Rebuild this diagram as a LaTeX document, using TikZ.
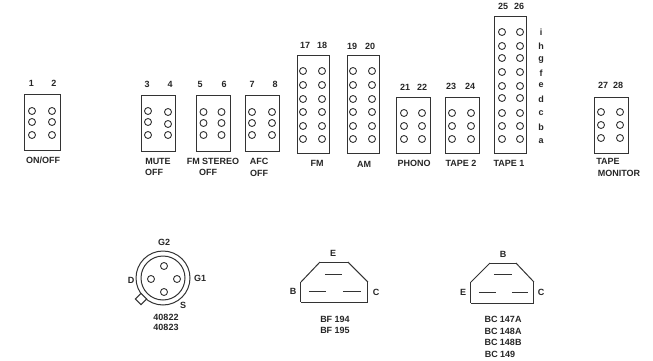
\documentclass[tikz,border=0pt]{standalone}
\usepackage{fontspec}
\setsansfont{Liberation Sans}
\usepackage{tkz-graph}
\usetikzlibrary{arrows}
\usetikzlibrary{shapes}

\begin{document}
\begin{tikzpicture}[scale = 3.515, font=\sffamily\bfseries\fontsize{9}{9}\selectfont]
	\useasboundingbox (0, 0) rectangle (6.53, 3.60);
	\tikzstyle{VertexStyle} = []
	\tikzstyle{EdgeStyle} = [line width = 1pt, color = black!80]
	\tikzstyle{holeStyle}=[shape = circle, minimum size = 7pt, inner sep = 0pt, line width = 0.9pt, draw = black!80]
	\tikzstyle{textStyle}=[inner sep = 0pt, color = black!85]
	\tikzstyle{cornerStyle}=[shape = coordinate]
	\tikzstyle{shortBoxStyle}=[shape = rectangle, minimum width = 34pt, minimum height = 57pt, inner sep = 0pt, line width = 1pt, draw = black!80]
	\tikzstyle{tallBoxStyle}=[shortBoxStyle, minimum width = 32pt, minimum height = 99pt]
	\tikzstyle{longBoxStyle}=[shortBoxStyle, minimum width = 32pt, minimum height = 138pt]
	\tikzstyle{ringStyle}=[shape = circle, inner sep = 0pt, line width = 1pt, draw = black!80]
	\tikzstyle{tabStyle}=[shape = rectangle, rotate = 45, minimum size = 8pt, inner sep = 0pt, line width = 1pt, draw = black!80, fill = white]
	% sockets
	\Vertex[style = {shortBoxStyle, minimum width = 37pt}, x = 0.425, y = 2.375, NoLabel]{b1}
	\Vertex[style = shortBoxStyle, x = 1.585, y = 2.365, NoLabel]{b3}
	\Vertex[style = shortBoxStyle, x = 2.13, y = 2.365, NoLabel]{b5}
	\Vertex[style = shortBoxStyle, x = 2.62, y = 2.365, NoLabel]{b7}
	\Vertex[style = tallBoxStyle, x = 3.13, y = 2.555, NoLabel]{b17}
	\Vertex[style = tallBoxStyle, x = 3.63, y = 2.555, NoLabel]{b19}
	\Vertex[style = shortBoxStyle, x = 4.135, y = 2.345, NoLabel]{b21}
	\Vertex[style = shortBoxStyle, x = 4.625, y = 2.345, NoLabel]{b23}
	\Vertex[style = longBoxStyle, x = 5.10, y = 2.75, NoLabel]{b25}
	\Vertex[style = shortBoxStyle, x = 6.11, y = 2.345, NoLabel]{b27}
	% holes
	\Vertex[style = holeStyle, x = 0.32, y = 2.49, NoLabel]{h1a}
	\Vertex[style = holeStyle, x = 0.32, y = 2.38, NoLabel]{h1b}
	\Vertex[style = holeStyle, x = 0.32, y = 2.25, NoLabel]{h1c}
	\Vertex[style = holeStyle, x = 0.52, y = 2.49, NoLabel]{h2a}
	\Vertex[style = holeStyle, x = 0.52, y = 2.38, NoLabel]{h2b}
	\Vertex[style = holeStyle, x = 0.52, y = 2.25, NoLabel]{h2c}
	\Vertex[style = holeStyle, x = 1.48, y = 2.49, NoLabel]{h3a}
	\Vertex[style = holeStyle, x = 1.48, y = 2.38, NoLabel]{h3b}
	\Vertex[style = holeStyle, x = 1.48, y = 2.25, NoLabel]{h3c}
	\Vertex[style = holeStyle, x = 1.68, y = 2.48, NoLabel]{h4a}
	\Vertex[style = holeStyle, x = 1.68, y = 2.36, NoLabel]{h4b}
	\Vertex[style = holeStyle, x = 1.68, y = 2.25, NoLabel]{h4c}
	\Vertex[style = holeStyle, x = 2.035, y = 2.48, NoLabel]{h5a}
	\Vertex[style = holeStyle, x = 2.035, y = 2.37, NoLabel]{h5b}
	\Vertex[style = holeStyle, x = 2.035, y = 2.25, NoLabel]{h5c}
	\Vertex[style = holeStyle, x = 2.215, y = 2.48, NoLabel]{h6a}
	\Vertex[style = holeStyle, x = 2.215, y = 2.37, NoLabel]{h6b}
	\Vertex[style = holeStyle, x = 2.215, y = 2.25, NoLabel]{h6c}
	\Vertex[style = holeStyle, x = 2.52, y = 2.48, NoLabel]{h7a}
	\Vertex[style = holeStyle, x = 2.52, y = 2.37, NoLabel]{h7b}
	\Vertex[style = holeStyle, x = 2.52, y = 2.25, NoLabel]{h7c}
	\Vertex[style = holeStyle, x = 2.72, y = 2.48, NoLabel]{h8a}
	\Vertex[style = holeStyle, x = 2.72, y = 2.37, NoLabel]{h8b}
	\Vertex[style = holeStyle, x = 2.72, y = 2.25, NoLabel]{h8c}
	\Vertex[style = holeStyle, x = 3.03, y = 2.89, NoLabel]{h17a}
	\Vertex[style = holeStyle, x = 3.03, y = 2.75, NoLabel]{h17b}
	\Vertex[style = holeStyle, x = 3.03, y = 2.61, NoLabel]{h17c}
	\Vertex[style = holeStyle, x = 3.03, y = 2.48, NoLabel]{h17d}
	\Vertex[style = holeStyle, x = 3.03, y = 2.34, NoLabel]{h17e}
	\Vertex[style = holeStyle, x = 3.03, y = 2.21, NoLabel]{h17f}
	\Vertex[style = holeStyle, x = 3.22, y = 2.89, NoLabel]{h18a}
	\Vertex[style = holeStyle, x = 3.22, y = 2.75, NoLabel]{h18b}
	\Vertex[style = holeStyle, x = 3.22, y = 2.61, NoLabel]{h18c}
	\Vertex[style = holeStyle, x = 3.22, y = 2.48, NoLabel]{h18d}
	\Vertex[style = holeStyle, x = 3.22, y = 2.34, NoLabel]{h18e}
	\Vertex[style = holeStyle, x = 3.22, y = 2.21, NoLabel]{h18f}
	\Vertex[style = holeStyle, x = 3.53, y = 2.89, NoLabel]{h19a}
	\Vertex[style = holeStyle, x = 3.53, y = 2.75, NoLabel]{h19b}
	\Vertex[style = holeStyle, x = 3.53, y = 2.61, NoLabel]{h19c}
	\Vertex[style = holeStyle, x = 3.53, y = 2.48, NoLabel]{h19d}
	\Vertex[style = holeStyle, x = 3.53, y = 2.34, NoLabel]{h19e}
	\Vertex[style = holeStyle, x = 3.53, y = 2.21, NoLabel]{h19f}
	\Vertex[style = holeStyle, x = 3.72, y = 2.89, NoLabel]{h20a}
	\Vertex[style = holeStyle, x = 3.72, y = 2.75, NoLabel]{h20b}
	\Vertex[style = holeStyle, x = 3.72, y = 2.61, NoLabel]{h20c}
	\Vertex[style = holeStyle, x = 3.72, y = 2.48, NoLabel]{h20d}
	\Vertex[style = holeStyle, x = 3.72, y = 2.34, NoLabel]{h20e}
	\Vertex[style = holeStyle, x = 3.72, y = 2.21, NoLabel]{h20f}
	\Vertex[style = holeStyle, x = 4.04, y = 2.47, NoLabel]{h21a}
	\Vertex[style = holeStyle, x = 4.04, y = 2.34, NoLabel]{h21b}
	\Vertex[style = holeStyle, x = 4.04, y = 2.21, NoLabel]{h21c}
	\Vertex[style = holeStyle, x = 4.22, y = 2.47, NoLabel]{h22a}
	\Vertex[style = holeStyle, x = 4.22, y = 2.34, NoLabel]{h22b}
	\Vertex[style = holeStyle, x = 4.22, y = 2.21, NoLabel]{h22c}
	\Vertex[style = holeStyle, x = 4.52, y = 2.47, NoLabel]{h23a}
	\Vertex[style = holeStyle, x = 4.52, y = 2.34, NoLabel]{h23b}
	\Vertex[style = holeStyle, x = 4.52, y = 2.21, NoLabel]{h23c}
	\Vertex[style = holeStyle, x = 4.71, y = 2.47, NoLabel]{h24a}
	\Vertex[style = holeStyle, x = 4.71, y = 2.34, NoLabel]{h24b}
	\Vertex[style = holeStyle, x = 4.71, y = 2.21, NoLabel]{h24c}
	\Vertex[style = holeStyle, x = 5.02, y = 3.28, NoLabel]{h25a}
	\Vertex[style = holeStyle, x = 5.02, y = 3.14, NoLabel]{h25b}
	\Vertex[style = holeStyle, x = 5.02, y = 3.02, NoLabel]{h25c}
	\Vertex[style = holeStyle, x = 5.02, y = 2.88, NoLabel]{h25d}
	\Vertex[style = holeStyle, x = 5.02, y = 2.74, NoLabel]{h25e}
	\Vertex[style = holeStyle, x = 5.02, y = 2.62, NoLabel]{h25f}
	\Vertex[style = holeStyle, x = 5.02, y = 2.47, NoLabel]{h25g}
	\Vertex[style = holeStyle, x = 5.02, y = 2.34, NoLabel]{h25h}
	\Vertex[style = holeStyle, x = 5.02, y = 2.21, NoLabel]{h25i}
	\Vertex[style = holeStyle, x = 5.20, y = 3.28, NoLabel]{h26a}
	\Vertex[style = holeStyle, x = 5.20, y = 3.14, NoLabel]{h26b}
	\Vertex[style = holeStyle, x = 5.20, y = 3.02, NoLabel]{h26c}
	\Vertex[style = holeStyle, x = 5.20, y = 2.88, NoLabel]{h26d}
	\Vertex[style = holeStyle, x = 5.20, y = 2.74, NoLabel]{h26e}
	\Vertex[style = holeStyle, x = 5.20, y = 2.62, NoLabel]{h26f}
	\Vertex[style = holeStyle, x = 5.20, y = 2.47, NoLabel]{h26g}
	\Vertex[style = holeStyle, x = 5.20, y = 2.34, NoLabel]{h26h}
	\Vertex[style = holeStyle, x = 5.20, y = 2.21, NoLabel]{h26i}
	\Vertex[style = holeStyle, x = 6.01, y = 2.48, NoLabel]{h27a}
	\Vertex[style = holeStyle, x = 6.01, y = 2.35, NoLabel]{h27b}
	\Vertex[style = holeStyle, x = 6.01, y = 2.22, NoLabel]{h27c}
	\Vertex[style = holeStyle, x = 6.20, y = 2.48, NoLabel]{h28a}
	\Vertex[style = holeStyle, x = 6.20, y = 2.35, NoLabel]{h28b}
	\Vertex[style = holeStyle, x = 6.20, y = 2.22, NoLabel]{h28c}
	% numbers
	\Vertex[style = textStyle, x = 0.315, y = 2.77, L = {1}]{n1}
	\Vertex[style = textStyle, x = 0.54, y = 2.77, L = {2}]{n2}
	\Vertex[style = textStyle, x = 1.47, y = 2.76, L = {3}]{n3}
	\Vertex[style = textStyle, x = 1.70, y = 2.76, L = {4}]{n4}
	\Vertex[style = textStyle, x = 2.00, y = 2.76, L = {5}]{n5}
	\Vertex[style = textStyle, x = 2.24, y = 2.76, L = {6}]{n6}
	\Vertex[style = textStyle, x = 2.52, y = 2.76, L = {7}]{n7}
	\Vertex[style = textStyle, x = 2.75, y = 2.76, L = {8}]{n8}
	\Vertex[style = textStyle, x = 3.05, y = 3.15, L = {17}]{n17}
	\Vertex[style = textStyle, x = 3.22, y = 3.15, L = {18}]{n18}
	\Vertex[style = textStyle, x = 3.52, y = 3.14, L = {19}]{n19}
	\Vertex[style = textStyle, x = 3.70, y = 3.14, L = {20}]{n20}
	\Vertex[style = textStyle, x = 4.05, y = 2.73, L = {21}]{n21}
	\Vertex[style = textStyle, x = 4.22, y = 2.73, L = {22}]{n22}
	\Vertex[style = textStyle, x = 4.51, y = 2.74, L = {23}]{n23}
	\Vertex[style = textStyle, x = 4.70, y = 2.74, L = {24}]{n24}
	\Vertex[style = textStyle, x = 5.03, y = 3.54, L = {25}]{n25}
	\Vertex[style = textStyle, x = 5.19, y = 3.54, L = {26}]{n26}
	\Vertex[style = textStyle, x = 6.03, y = 2.75, L = {27}]{n27}
	\Vertex[style = textStyle, x = 6.18, y = 2.75, L = {28}]{n28}
	% letters
	\Vertex[style = textStyle, x = 5.41, y = 3.28, L = {i}]{li}
	\Vertex[style = textStyle, x = 5.41, y = 3.14, L = {h}]{lh}
	\Vertex[style = textStyle, x = 5.41, y = 3.00, L = {g}]{lg}
	\Vertex[style = textStyle, x = 5.41, y = 2.87, L = {f}]{lf}
	\Vertex[style = textStyle, x = 5.41, y = 2.75, L = {e}]{le}
	\Vertex[style = textStyle, x = 5.41, y = 2.61, L = {d}]{ld}
	\Vertex[style = textStyle, x = 5.41, y = 2.47, L = {c}]{lc}
	\Vertex[style = textStyle, x = 5.41, y = 2.33, L = {b}]{lb}
	\Vertex[style = textStyle, x = 5.41, y = 2.19, L = {a}]{la}
	% names
	\Vertex[style = textStyle, x = 0.43, y = 2.00, L = {ON/OFF}]{t1}
	\Vertex[style = textStyle, x = 1.58, y = 1.99, L = {MUTE}]{t3}
	\Vertex[style = textStyle, x = 1.54, y = 1.88, L = {OFF}]{t3b}
	\Vertex[style = textStyle, x = 2.13, y = 1.99, L = {FM STEREO}]{t5}
	\Vertex[style = textStyle, x = 2.08, y = 1.88, L = {OFF}]{t5b}
	\Vertex[style = textStyle, x = 2.59, y = 1.99, L = {AFC}]{t7}
	\Vertex[style = textStyle, x = 2.59, y = 1.87, L = {OFF}]{t7b}
	\Vertex[style = textStyle, x = 3.17, y = 1.97, L = {FM}]{t17}
	\Vertex[style = textStyle, x = 3.64, y = 1.96, L = {AM}]{t19}
	\Vertex[style = textStyle, x = 4.14, y = 1.97, L = {PHONO}]{t21}
	\Vertex[style = textStyle, x = 4.61, y = 1.97, L = {TAPE 2}]{t23}
	\Vertex[style = textStyle, x = 5.09, y = 1.97, L = {TAPE 1}]{t25}
	\Vertex[style = textStyle, x = 6.08, y = 1.99, L = {TAPE}]{t27}
	\Vertex[style = textStyle, x = 6.19, y = 1.87, L = {MONITOR}]{t27b}
	% mosfet
	\Vertex[style = {ringStyle, minimum size = 54pt}, x = 1.63, y = 0.82, NoLabel]{m0}
	\Vertex[style = {ringStyle, minimum size = 44pt}, x = 1.63, y = 0.82, NoLabel]{m1}
	\Vertex[style = tabStyle, x = 1.41, y = 0.61, NoLabel]{m2}
	\Vertex[style = holeStyle, x = 1.64, y = 0.94, NoLabel]{m3}
	\Vertex[style = holeStyle, x = 1.51, y = 0.81, NoLabel]{m4}
	\Vertex[style = holeStyle, x = 1.77, y = 0.81, NoLabel]{m5}
	\Vertex[style = holeStyle, x = 1.64, y = 0.68, NoLabel]{m6}
	\Vertex[style = textStyle, x = 1.64, y = 1.18, L = {G2}]{mg2}
	\Vertex[style = textStyle, x = 1.31, y = 0.80, L = {D}]{md}
	\Vertex[style = textStyle, x = 2.00, y = 0.82, L = {G1}]{mg1}
	\Vertex[style = textStyle, x = 1.83, y = 0.55, L = {S}]{ms}
	\Vertex[style = textStyle, x = 1.66, y = 0.43, L = {40822}]{mt0}
	\Vertex[style = textStyle, x = 1.66, y = 0.33, L = {40823}]{mt1}
	% BF
	\Vertex[style = cornerStyle, x = 3.01, y = 0.58, NoLabel]{f0}
	\Vertex[style = cornerStyle, x = 3.01, y = 0.78, NoLabel]{f1}
	\Vertex[style = cornerStyle, x = 3.20, y = 0.98, NoLabel]{f2}
	\Vertex[style = cornerStyle, x = 3.48, y = 0.98, NoLabel]{f3}
	\Vertex[style = cornerStyle, x = 3.68, y = 0.78, NoLabel]{f4}
	\Vertex[style = cornerStyle, x = 3.68, y = 0.58, NoLabel]{f5}
	\Vertex[style = cornerStyle, x = 3.25, y = 0.86, NoLabel]{f6}
	\Vertex[style = cornerStyle, x = 3.42, y = 0.86, NoLabel]{f7}
	\Vertex[style = cornerStyle, x = 3.09, y = 0.69, NoLabel]{f8}
	\Vertex[style = cornerStyle, x = 3.26, y = 0.69, NoLabel]{f9}
	\Vertex[style = cornerStyle, x = 3.43, y = 0.69, NoLabel]{f10}
	\Vertex[style = cornerStyle, x = 3.61, y = 0.69, NoLabel]{f11}
	\Edge(f0)(f1)
	\Edge(f1)(f2)
	\Edge(f2)(f3)
	\Edge(f3)(f4)
	\Edge(f4)(f5)
	\Edge(f5)(f0)
	\Edge(f6)(f7)
	\Edge(f8)(f9)
	\Edge(f10)(f11)
	\Vertex[style = textStyle, x = 3.33, y = 1.07, L = {E}]{fe}
	\Vertex[style = textStyle, x = 2.93, y = 0.69, L = {B}]{fb}
	\Vertex[style = textStyle, x = 3.76, y = 0.68, L = {C}]{fc}
	\Vertex[style = textStyle, x = 3.35, y = 0.41, L = {BF 194}]{ft0}
	\Vertex[style = textStyle, x = 3.35, y = 0.30, L = {BF 195}]{ft1}
	% BC
	\Vertex[style = cornerStyle, x = 4.71, y = 0.57, NoLabel]{c0}
	\Vertex[style = cornerStyle, x = 4.71, y = 0.78, NoLabel]{c1}
	\Vertex[style = cornerStyle, x = 4.90, y = 0.97, NoLabel]{c2}
	\Vertex[style = cornerStyle, x = 5.16, y = 0.97, NoLabel]{c3}
	\Vertex[style = cornerStyle, x = 5.34, y = 0.78, NoLabel]{c4}
	\Vertex[style = cornerStyle, x = 5.34, y = 0.57, NoLabel]{c5}
	\Vertex[style = cornerStyle, x = 4.94, y = 0.86, NoLabel]{c6}
	\Vertex[style = cornerStyle, x = 5.12, y = 0.86, NoLabel]{c7}
	\Vertex[style = cornerStyle, x = 4.79, y = 0.68, NoLabel]{c8}
	\Vertex[style = cornerStyle, x = 4.96, y = 0.68, NoLabel]{c9}
	\Vertex[style = cornerStyle, x = 5.12, y = 0.68, NoLabel]{c10}
	\Vertex[style = cornerStyle, x = 5.28, y = 0.68, NoLabel]{c11}
	\Edge(c0)(c1)
	\Edge(c1)(c2)
	\Edge(c2)(c3)
	\Edge(c3)(c4)
	\Edge(c4)(c5)
	\Edge(c5)(c0)
	\Edge(c6)(c7)
	\Edge(c8)(c9)
	\Edge(c10)(c11)
	\Vertex[style = textStyle, x = 5.03, y = 1.06, L = {B}]{cb}
	\Vertex[style = textStyle, x = 4.63, y = 0.68, L = {E}]{ce}
	\Vertex[style = textStyle, x = 5.41, y = 0.68, L = {C}]{cc}
	\Vertex[style = textStyle, x = 5.03, y = 0.41, L = {BC 147A}]{ct0}
	\Vertex[style = textStyle, x = 5.03, y = 0.29, L = {BC 148A}]{ct1}
	\Vertex[style = textStyle, x = 5.03, y = 0.18, L = {BC 148B}]{ct2}
	\Vertex[style = textStyle, x = 5.00, y = 0.06, L = {BC 149}]{ct3}
\end{tikzpicture}
\end{document}
